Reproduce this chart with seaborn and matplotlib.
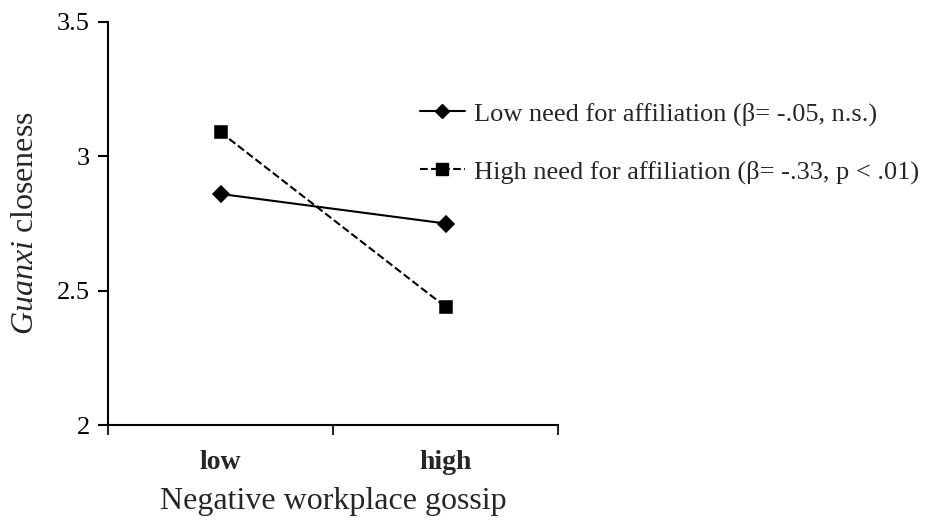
import pandas as pd
import numpy as np
import matplotlib
matplotlib.use("Agg")
import matplotlib.pyplot as plt
import seaborn as sns
from matplotlib.lines import Line2D

# data
gossip = ["low", "high"]
low_need = [2.86, 2.75]
high_need = [3.09, 2.44]
series_names = ["Low need for affiliation (\u03b2= -.05, n.s.)",
                "High need for affiliation (\u03b2= -.33, p < .01)"]
y_ticks = [2, 2.5, 3, 3.5]
y_ticklabels = ["2", "2.5", "3", "3.5"]

df = pd.DataFrame({
    "gossip": gossip * 2,
    "closeness": low_need + high_need,
    "group": [series_names[0]] * 2 + [series_names[1]] * 2,
})

sns.set_style("ticks")
plt.rcParams["font.family"] = ["Liberation Serif", "DejaVu Serif"]
plt.rcParams["mathtext.fontset"] = "custom"
plt.rcParams["mathtext.it"] = "Liberation Serif:italic"
plt.rcParams["mathtext.rm"] = "Liberation Serif"

fig = plt.figure(figsize=(9.39, 5.24), dpi=100)
ax = fig.add_axes([108 / 939, 1 - 425 / 524, 450 / 939, 403 / 524])

sns.pointplot(data=df, x="gossip", y="closeness", hue="group", order=gossip,
              hue_order=series_names, palette=["black", "black"],
              markers=["D", "s"], linestyles=["-", "--"], dodge=False,
              errorbar=None, markersize=8, linewidth=1.5, ax=ax, legend=False)

ax.set_xlim(-0.5, 1.5)
ax.set_ylim(2, 3.5)
ax.set_yticks(y_ticks)
ax.set_yticklabels(y_ticklabels, fontsize=19)
ax.tick_params(axis="y", length=7, width=1.5, direction="out", pad=6, colors="black")

# boundary ticks as major, category labels as minor ticks
ax.set_xticks([-0.5, 0.5, 1.5])
ax.set_xticklabels(["", "", ""])
ax.set_xticks([0, 1], minor=True)
ax.set_xticklabels(gossip, minor=True, fontsize=20, fontweight="bold")
ax.tick_params(axis="x", which="major", length=7, width=1.5, direction="out")
ax.tick_params(axis="x", which="minor", length=0, pad=18)

for s in ["left", "bottom"]:
    ax.spines[s].set_linewidth(1.5)
    ax.spines[s].set_color("black")
sns.despine(ax=ax)

ax.set_xlabel("Negative workplace gossip", fontsize=23, labelpad=9)
ax.set_ylabel(r"$\it{Guanxi}$ closeness", fontsize=23, labelpad=12)

handles = [
    Line2D([], [], color="black", marker="D", linestyle="-", markersize=7, linewidth=1.5),
    Line2D([], [], color="black", marker="s", linestyle="--", markersize=8, linewidth=1.5),
]
fig.legend(handles, series_names, loc="upper left", bbox_to_anchor=(420 / 939, 1 - 102 / 524),
           frameon=False, fontsize=19, labelspacing=1.3, handlelength=1.7,
           handletextpad=0.35, borderpad=0, borderaxespad=0)

fig.savefig("out.png", dpi=100)
